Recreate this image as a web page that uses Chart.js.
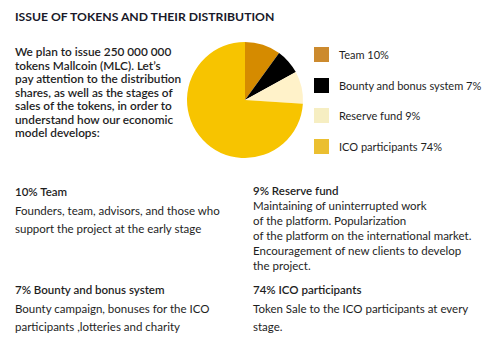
<!DOCTYPE html>
<html>
<head>
<meta charset="utf-8">
<script src="https://cdn.jsdelivr.net/npm/chart.js@4/dist/chart.umd.min.js"></script>
<style>
  body { margin: 0; width: 483px; height: 357px; background: #fff; position: relative; overflow: hidden;
         font-family: Lato, "Open Sans", sans-serif; color: #1e1e1e; }
  .abs { position: absolute; white-space: nowrap; }
  #title { left: 15px; top: 9px; font-size: 12.2px; font-weight: bold; color: #1a1a2a; }
  #intro { left: 15px; top: 45px; font-size: 11.8px; line-height: 13.5px; font-weight: 600; }
  #chartBox { position: absolute; left: 185px; top: 40px; width: 120px; height: 120px; }
  .leg { position: absolute; left: 314px; font-size: 11px; }
  .leg span.sw { position: absolute; left: 0; top: 0; width: 15px; height: 15px; }
  .leg span.tx { position: absolute; left: 25px; top: 0; line-height: 15px; white-space: nowrap; }
  .sec { position: absolute; font-size: 11.5px; white-space: nowrap; }
  .sec b { font-weight: 600; }
</style>
</head>
<body>
<div id="title" class="abs">ISSUE OF TOKENS AND THEIR DISTRIBUTION</div>
<div id="intro" class="abs">We plan to issue 250 000 000<br>tokens Mallcoin (MLC). Let’s<br>pay attention to the distribution<br>shares, as well as the stages of<br>sales of the tokens, in order to<br>understand how our economic<br>model develops:</div>
<div id="chartBox"><canvas id="pie" width="120" height="120"></canvas></div>
<div id="legend"></div>

<div class="sec" style="left:15px; top:183px; line-height:18.5px;"><b>10% Team</b><br>Founders, team, advisors, and those who<br>support the project at the early stage</div>
<div class="sec" style="left:253px; top:183px; line-height:15px;"><b>9% Reserve fund</b><br>Maintaining of uninterrupted work<br>of the platform. Popularization<br>of the platform on the international market.<br>Encouragement of new clients to develop<br>the project.</div>
<div class="sec" style="left:15px; top:281px; line-height:18.5px;"><b>7% Bounty and bonus system</b><br>Bounty campaign, bonuses for the ICO<br>participants ,lotteries and charity</div>
<div class="sec" style="left:253px; top:281px; line-height:18.5px;"><b>74% ICO participants</b><br>Token Sale to the ICO participants at every<br>stage.</div>

<script>
const labels = ['Team', 'Bounty and bonus system', 'Reserve fund', 'ICO participants'];
const shares = [10, 7, 9, 74];
const sliceColors = ['#d58b00', '#000000', '#fff2c9', '#f7c400'];
const legendColors = ['#cc8a2e', '#000000', '#f6eec2', '#ebbf30'];

// legend drawn as html, one row per category
const legendBox = document.getElementById('legend');
labels.forEach((name, i) => {
    const row = document.createElement('div');
    row.className = 'leg';
    row.style.top = (47 + i * 30.5) + 'px';
    row.innerHTML = `<span class="sw" style="background:${legendColors[i]}"></span><span class="tx">${name} ${shares[i]}%</span>`;
    legendBox.appendChild(row);
});

const ctx = document.getElementById('pie').getContext('2d');
new Chart(ctx, {
    type: 'pie',
    data: {
        labels: labels,
        datasets: [{
            data: shares,
            backgroundColor: sliceColors,
            borderWidth: 0
        }]
    },
    options: {
        responsive: false,
        animation: false,
        radius: 58,
        layout: { padding: 0 },
        plugins: {
            legend: { display: false },
            tooltip: { enabled: false }
        }
    }
});
</script>
</body>
</html>
